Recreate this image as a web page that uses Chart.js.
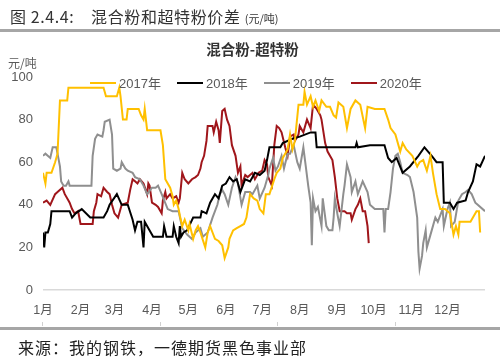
<!DOCTYPE html>
<html>
<head>
<meta charset="utf-8">
<script src="https://cdn.jsdelivr.net/npm/chart.js@4/dist/chart.umd.min.js"></script>
<style>
  html, body { margin: 0; padding: 0; background: #fff; }
  body { width: 500px; height: 363px; position: relative; overflow: hidden;
         font-family: "Liberation Sans", "Noto Sans CJK SC", sans-serif; }
  #wrap { position: absolute; left: 0; top: 0; width: 500px; height: 363px; }
  .abs { position: absolute; white-space: nowrap; }
  #head { left: 10px; top: 4px; font-size: 16px; color: #333; font-family: "Noto Sans CJK SC", sans-serif; letter-spacing: 0.6px; }
  #head small { font-size: 11px; letter-spacing: 0; }
  #rule1 { left: 0; top: 29px; width: 500px; height: 3px; background: #a6a6a6; }
  #ctitle { left: 0; width: 505px; top: 38px; text-align: center; font-size: 14.5px; font-weight: bold; color: #333; font-family: "Noto Sans CJK SC", sans-serif; }
  #unit { left: 8px; top: 54px; font-size: 12px; color: #595959; font-family: "Noto Sans CJK SC", sans-serif; }
  #legend { left: 90px; top: 73px; display: flex; font-size: 13px; color: #595959; }
  #legend .item { display: flex; align-items: center; margin-right: 16px; }
  #legend .swatch { width: 26px; height: 2px; margin-right: 3px; }
  #rule2 { left: 0; top: 327px; width: 500px; height: 3px; background: #a6a6a6; }
  .tick { top: 322px; width: 1px; height: 4px; background: #d0d0d0; }
  #foot { left: 18px; top: 335px; font-size: 16px; color: #222; font-family: "Noto Sans CJK SC", sans-serif; letter-spacing: 1px; }
</style>
</head>
<body>
<div id="wrap"><canvas id="chart"></canvas></div>
<div class="abs" id="head">图 2.4.4:&nbsp;&nbsp;&nbsp;&nbsp;混合粉和超特粉价差 <small>(元/吨)</small></div>
<div class="abs" id="rule1"></div>
<div class="abs" id="ctitle">混合粉-超特粉</div>
<div class="abs" id="unit">元/吨</div>
<div class="abs" id="legend"></div>
<div class="abs tick" style="left:42px"></div>
<div class="abs tick" style="left:160px"></div>
<div class="abs tick" style="left:277px"></div>
<div class="abs tick" style="left:395px"></div>
<div class="abs" id="rule2"></div>
<div class="abs" id="foot">来源：我的钢铁，一德期货黑色事业部</div>
<script>
// month labels and the day of year each month starts on
var months = ['1月', '2月', '3月', '4月', '5月', '6月', '7月', '8月', '9月', '10月', '11月', '12月'];
var monthStarts = [0, 31, 59, 90, 120, 151, 181, 212, 243, 273, 304, 334];
var yTicks = [0, 20, 40, 60, 80, 100];

var seriesNames = ['2017年', '2018年', '2019年', '2020年'];
var seriesColors = ['#ffc000', '#000000', '#8f8f8f', '#a0161b'];

// 2017
var days2017 = [0,2,3,7,10,12,14,20,21,50,52,61,63,64,66,69,70,79,81,83,84,86,97,99,101,103,105,107,108,110,112,113,115,117,120,121,124,126,128,130,134,136,138,140,142,145,148,150,153,154,157,160,163,166,168,171,174,177,179,182,184,187,191,193,196,198,202,204,206,208,211,215,216,218,221,223,225,228,230,234,237,240,242,244,248,251,254,258,262,266,268,274,282,285,287,291,295,297,300,305,309,311,314,317,320,322,325,328,332,336,339,341,343,344,347,353,358,360,361];
var vals2017 = [55,50,55,55,60,64,89,89,95,95,91,91,95,91,80,80,85,85,82,80,85,75,75,68,52,50,48,44,40,42,38,35,30,33,28,31,24,28,30,27,20,27,30,27,24,23,21,15,20,24,28,29,30,31,34,45,43,42,38,36,45,45,52,55,57,62,66,73,66,70,87,87,93,87,91,86,89,84,89,86,86,82,81,88,86,76,85,89,87,76,86,85,85,80,76,73,65,69,66,63,58,60,61,56,63,55,45,38,38,36,26,30,26,32,32,32,37,37,27];

// 2018
var days2018 = [0,1,2,4,6,7,22,24,27,32,39,50,53,55,61,65,70,74,76,78,81,83,84,87,91,99,100,102,107,108,110,112,113,114,116,119,124,130,131,135,138,142,145,148,151,154,157,160,163,167,171,175,179,183,185,187,196,198,206,212,221,225,226,258,259,260,270,282,285,288,292,297,303,310,315,318,321,325,330,331,336,339,342,349,351,355,358,361,365];
var vals2018 = [27,20,27,27,31,37,37,34,36,38,34,34,37,40,45,40,40,33,28,32,32,20,32,29,25,25,30,25,25,30,25,22,30,25,27,28,34,34,37,36,41,45,43,49,50,53,51,52,46,52,51,55,54,56,61,67,67,69,71,72,74,74,67,67,69,67,68,68,62,60,62,55,58,63,67,65,63,60,60,41,41,38,41,42,46,51,59,58,63];

// 2019
var days2019 = [0,2,6,8,11,12,14,15,17,19,21,22,40,41,43,45,49,50,51,55,57,58,61,64,65,68,70,74,76,80,83,86,90,93,95,98,103,107,112,115,119,123,126,130,132,136,140,144,146,148,150,153,156,159,161,164,167,171,173,177,179,183,186,187,190,192,194,197,199,202,204,207,210,212,215,217,219,221,222,223,225,227,230,231,234,236,239,240,241,243,245,248,249,251,254,255,258,260,264,268,270,274,281,282,283,285,287,289,291,293,295,297,301,303,306,309,310,311,313,314,316,317,320,321,324,326,330,331,334,336,337,340,343,346,349,351,354,357,359,365];
var vals2019 = [63,64,62,67,67,64,58,51,49,49,51,49,49,63,71,73,72,75,79,80,73,57,56,57,60,57,56,55,53,52,49,45,48,48,49,45,38,37,37,29,26,24,27,29,25,27,34,40,45,47,45,40,48,53,50,40,46,46,45,49,43,48,54,57,62,56,58,63,57,64,64,68,60,57,67,58,49,41,21,43,37,39,30,43,30,28,28,34,43,36,30,45,49,59,53,46,51,45,51,46,40,38,38,27,38,38,46,57,63,64,60,55,54,53,46,34,18,10,16,22,28,20,26,28,34,32,38,30,38,41,30,32,42,45,46,47,45,41,40,37];

// 2020
var days2020 = [0,3,6,10,12,16,18,21,22,24,26,29,31,41,42,44,45,48,50,53,55,57,59,62,64,65,70,72,74,76,78,80,83,86,87,88,90,93,95,98,99,101,102,105,107,110,112,113,115,117,120,123,126,128,130,131,133,135,136,140,141,143,145,146,148,150,152,154,156,159,161,163,164,167,169,173,175,178,181,183,185,186,189,191,193,195,197,200,202,204,207,208,211,212,215,218,221,223,226,229,230,233,235,239,241,243,245,249,251,254,255,258,260,262,264,266,268,269];
var vals2020 = [41,42,40,45,46,48,45,42,41,38,36,37,31,31,37,41,45,44,48,46,45,40,36,34,38,40,41,47,52,51,50,52,50,45,50,49,41,40,39,36,42,46,43,45,43,44,41,43,55,52,50,52,53,54,57,60,63,70,77,77,74,79,75,69,84,85,80,77,68,63,55,58,49,54,53,55,52,55,56,61,59,53,49,68,77,76,74,67,63,72,73,70,73,77,74,80,76,87,85,82,80,69,65,61,53,43,37,37,36,36,33,38,40,43,37,37,30,22];

function pairs(days, vals) {
    return days.map(function (d, i) { return { x: d, y: vals[i] }; });
}

var allDays = [days2017, days2018, days2019, days2020];
var allVals = [vals2017, vals2018, vals2019, vals2020];

var datasets = seriesNames.map(function (name, i) {
    return {
        label: name,
        data: pairs(allDays[i], allVals[i]),
        borderColor: seriesColors[i],
        backgroundColor: seriesColors[i],
        borderWidth: 2,
        pointRadius: 0,
        tension: 0,
        fill: false
    };
});

// html legend
var legend = document.getElementById('legend');
seriesNames.forEach(function (name, i) {
    var item = document.createElement('div');
    item.className = 'item';
    item.innerHTML = '<span class="swatch" style="background:' + seriesColors[i] + '"></span><span>' + name + '</span>';
    legend.appendChild(item);
});

var fontFamily = '"Liberation Sans", "Noto Sans CJK SC", sans-serif';

var ctx = document.getElementById('chart').getContext('2d');
var chart = new Chart(ctx, {
    type: 'line',
    data: { datasets: datasets },
    options: {
        responsive: true,
        maintainAspectRatio: false,
        animation: false,
        layout: { padding: { top: 77, right: 15, bottom: 43, left: 0 } },
        plugins: {
            legend: { display: false },
            title: { display: false },
            tooltip: { enabled: false }
        },
        scales: {
            x: {
                type: 'linear',
                min: 0,
                max: 365,
                grid: { display: false },
                border: { display: false },
                afterBuildTicks: function (scale) {
                    scale.ticks = monthStarts.map(function (v) { return { value: v }; });
                },
                afterFit: function (scale) { scale.height = 30; },
                ticks: {
                    autoSkip: false,
                    maxRotation: 0,
                    padding: 5,
                    color: '#595959',
                    font: { family: fontFamily, size: 12.5 },
                    callback: function (v) { return months[monthStarts.indexOf(v)]; }
                }
            },
            y: {
                min: 0,
                max: 100,
                afterBuildTicks: function (scale) {
                    scale.ticks = yTicks.map(function (v) { return { value: v }; });
                },
                afterFit: function (scale) { scale.width = 43; },
                grid: {
                    drawTicks: false,
                    color: function (c) { return c.tick && c.tick.value === 0 ? '#d9d9d9' : 'rgba(0,0,0,0)'; },
                    lineWidth: 1.5
                },
                border: { display: false },
                ticks: {
                    padding: 10,
                    color: '#595959',
                    font: { family: fontFamily, size: 13 }
                }
            }
        }
    }
});
</script>
</body>
</html>
